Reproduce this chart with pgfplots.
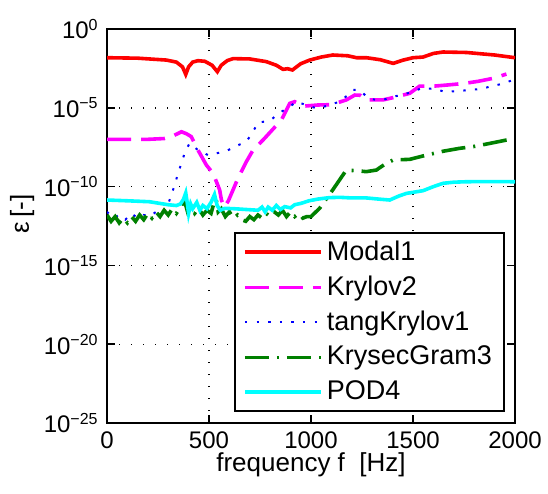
\documentclass[border=0pt]{standalone}
\usepackage{fontspec}
\setmainfont{Liberation Sans}
\usepackage{pgfplots}
\pgfplotsset{compat=1.18}
\definecolor{mred}{RGB}{255,0,0}
\definecolor{mmag}{RGB}{255,0,255}
\definecolor{mblue}{RGB}{0,0,255}
\definecolor{mgreen}{RGB}{0,128,0}
\definecolor{mcyan}{RGB}{0,255,255}

\begin{document}
\fontsize{12}{14}\selectfont
\begin{tikzpicture}
\begin{axis}[
  name=main,
  scale only axis,
  width=204pt, height=197pt,
  xmin=0, xmax=2000,
  ymode=log, ymin=1e-25, ymax=1,
  xtick={0,500,1000,1500,2000},
  ytick={1e-25,1e-20,1e-15,1e-10,1e-5,1},
  yticklabels={10\textsuperscript{−25},10\textsuperscript{−20},10\textsuperscript{−15},10\textsuperscript{−10},10\textsuperscript{−5},10\textsuperscript{0}},
  yminorticks=false,
  /pgf/number format/1000 sep={},
  /pgf/number format/assume math mode=true,
  tick label style={font=\fontsize{12}{14}\selectfont},
  xlabel={frequency f\ \ [Hz]},
  ylabel={ε\,[-]},
  xlabel style={font=\fontsize{13}{15}\selectfont, at={(axis description cs:0.5,-0.107)}, anchor=center},
  ylabel style={font=\fontsize{13}{15}\selectfont, at={(axis description cs:-0.208,0.53)}, anchor=center},
  tick align=inside,
  major tick length=4pt,
  tick style={black, line width=0.8pt},
  axis line style={black, line width=1pt},
  grid=major,
  major grid style={black, line width=0.7pt, dash pattern=on 0.7pt off 5.3pt},
  legend cell align=left,
  legend style={at={(0.975,0.028)}, anchor=south east, draw=black, line width=1pt,
    font=\fontsize{13.5}{15}\selectfont, row sep=2pt, inner xsep=4pt, inner ysep=2pt},
  legend image code/.code={\draw[#1] (0pt,0pt) -- (38pt,0pt);},
]
\addplot[mred, line width=1.8pt] coordinates {
(0,1.51e-2) (150,1.41e-2) (291,1.07e-2) (340,7.94e-3) (370,3.98e-3) (386,1.32e-3)
(400,3.98e-3) (420,7.94e-3) (446,9.77e-3) (480,8.91e-3) (515,5.01e-3) (541,1.95e-3)
(560,5.01e-3) (590,1e-2) (618,1.32e-2) (700,1.26e-2) (781,8.51e-3) (830,5.01e-3)
(863,2.75e-3) (885,3.02e-3) (909,2.51e-3) (950,6.31e-3) (994,1.07e-2) (1050,1.66e-2)
(1107,2.24e-2) (1180,2.0e-2) (1223,1.51e-2) (1272,1.51e-2) (1340,1.12e-2) (1403,6.61e-3)
(1450,1.05e-2) (1500,1.51e-2) (1549,1.66e-2) (1600,2.82e-2) (1647,3.47e-2) (1762,3.24e-2)
(1900,2.24e-2) (2000,1.51e-2)
};
\addlegendentry{Modal1}
\addplot[mmag, line width=1.8pt, dash pattern=on 12pt off 5pt] coordinates {
(0,1e-7) (200,1e-7) (280,1.12e-7) (316,1.48e-7) (345,2.24e-7) (365,3.02e-7) (390,2.24e-7)
(413,1.48e-7) (446,2.09e-8) (487,2.34e-9) (520,6.92e-10) (552,6.31e-11) (561,1.41e-11)
(575,5.01e-12) (595,1.26e-11) (618,6.31e-11) (642,3.39e-10) (683,3.80e-9) (716,2.09e-8)
(765,9.12e-8) (855,1.70e-6) (896,1.91e-5) (920,2.45e-5) (969,1.29e-5) (1034,1.51e-5)
(1100,1.58e-5) (1173,3.16e-5) (1215,6.46e-5) (1240,6.31e-5) (1272,3.16e-5) (1353,3.16e-5)
(1420,5.01e-5) (1484,8.32e-5) (1533,2.40e-4) (1606,2.40e-4) (1671,2.82e-4) (1753,3.55e-4)
(1819,4.79e-4) (1892,7.41e-4) (1958,1.38e-3)
};
\addlegendentry{Krylov2}
\addplot[mblue, line width=1pt, dash pattern=on 1.2pt off 4.6pt] coordinates {
(0,2.51e-12) (30,1e-12) (60,1.58e-12) (90,7.94e-13) (120,2.0e-12) (150,1e-12) (180,1.58e-12)
(210,1.26e-12) (240,2.51e-12) (270,2.0e-12) (295,5.01e-12) (315,2.95e-11) (332,1.26e-10)
(348,6.92e-10) (365,3.02e-9) (381,1.41e-8) (405,5.62e-8) (446,2.09e-8) (495,1e-8)
(536,1.29e-8) (585,1.82e-8) (634,3.80e-8) (683,7.08e-8) (713,2.63e-7) (740,1.15e-6)
(798,1.51e-6) (847,4.90e-6) (896,1.17e-5) (928,2.45e-5) (977,1.51e-5) (1026,9.33e-6)
(1075,1.29e-5) (1140,2.45e-5) (1180,6.31e-5) (1205,1.35e-4) (1240,1.35e-4) (1265,6.31e-5)
(1288,3.47e-5) (1353,3.16e-5) (1400,5.01e-5) (1443,6.46e-5) (1500,1.05e-4) (1541,1.74e-4)
(1606,1.58e-4) (1655,1.05e-4) (1720,1.12e-4) (1770,1.35e-4) (1835,1.58e-4) (1876,2.19e-4)
(1933,3.24e-4) (1990,5.75e-4)
};
\addlegendentry{tangKrylov1}
\addplot[mgreen, line width=1.8pt, dash pattern=on 12pt off 4pt on 1pt off 4pt] coordinates {
(0,1.58e-12) (20,6.31e-13) (40,1.26e-12) (60,5.01e-13) (80,1e-12) (100,5.01e-13) (120,1.26e-12)
(140,6.31e-13) (160,1.58e-12) (180,7.94e-13) (200,2.0e-12) (220,1e-12) (240,2.51e-12)
(260,1.26e-12) (280,3.16e-12) (300,1.58e-12) (320,3.98e-12) (340,2.0e-12) (360,5.01e-12)
(380,1.26e-11) (395,2.51e-12) (410,6.31e-12) (430,2.0e-12) (450,3.98e-12) (470,1.58e-12)
(490,3.16e-12) (510,2.0e-12) (525,1e-11) (535,1.58e-11) (545,2.51e-12) (560,3.98e-12)
(580,1.26e-12) (600,2.51e-12) (620,1e-12) (640,1.58e-12) (660,7.94e-13) (680,6.31e-13)
(700,1.26e-12) (720,7.94e-13) (740,1.58e-12) (760,1e-12) (780,2.0e-12) (800,1.26e-12)
(820,2.51e-12) (840,1.58e-12) (860,3.16e-12) (880,1.26e-12) (900,2.51e-12) (920,1.26e-12)
(940,2.0e-12) (960,1e-12) (980,1.26e-12) (1000,1.26e-12) (1042,4.17e-12) (1107,6.31e-11)
(1173,1.12e-9) (1230,1e-9) (1271,8.91e-10) (1320,1.12e-9) (1360,2.51e-9) (1403,4.90e-9)
(1484,5.37e-9) (1566,1e-8) (1650,1.78e-8) (1729,2.69e-8) (1800,3.55e-8) (1860,5.01e-8)
(1960,9.12e-8)
};
\addlegendentry{KrysecGram3}
\addplot[mcyan, line width=1.8pt] coordinates {
(0,1.41e-11) (100,1.26e-11) (208,1.10e-11) (300,7.08e-12) (340,6.31e-12) (360,7.94e-12)
(375,1.58e-11) (386,3.98e-11) (392,1.26e-11) (400,2.0e-12) (410,7.94e-12) (420,3.98e-12)
(440,1e-11) (455,3.16e-12) (470,6.31e-12) (490,3.98e-12) (510,1e-11) (527,3.16e-11)
(540,6.31e-12) (555,3.16e-12) (577,4.17e-12) (620,3.98e-12) (680,3.55e-12) (740,3.16e-12)
(760,5.01e-12) (775,2.51e-12) (790,5.01e-12) (810,3.16e-12) (830,6.31e-12) (850,3.55e-12)
(871,5.37e-12) (900,4.47e-12) (920,7.08e-12) (952,8.71e-12) (990,1.26e-11) (1034,1.62e-11)
(1090,2.0e-11) (1140,2.09e-11) (1200,1.91e-11) (1272,1.91e-11) (1340,1.58e-11)
(1386,1.41e-11) (1430,2.51e-11) (1468,3.72e-11) (1549,5.50e-11) (1600,1e-10)
(1647,1.62e-10) (1700,1.91e-10) (1762,2.04e-10) (1880,2.09e-10) (2000,2.04e-10)
};
\addlegendentry{POD4}
\end{axis}
\pgfresetboundingbox
\path ([xshift=-53.5pt,yshift=-35pt]main.south west) rectangle ([xshift=16.5pt,yshift=14.5pt]main.north east);
\end{tikzpicture}
\end{document}
